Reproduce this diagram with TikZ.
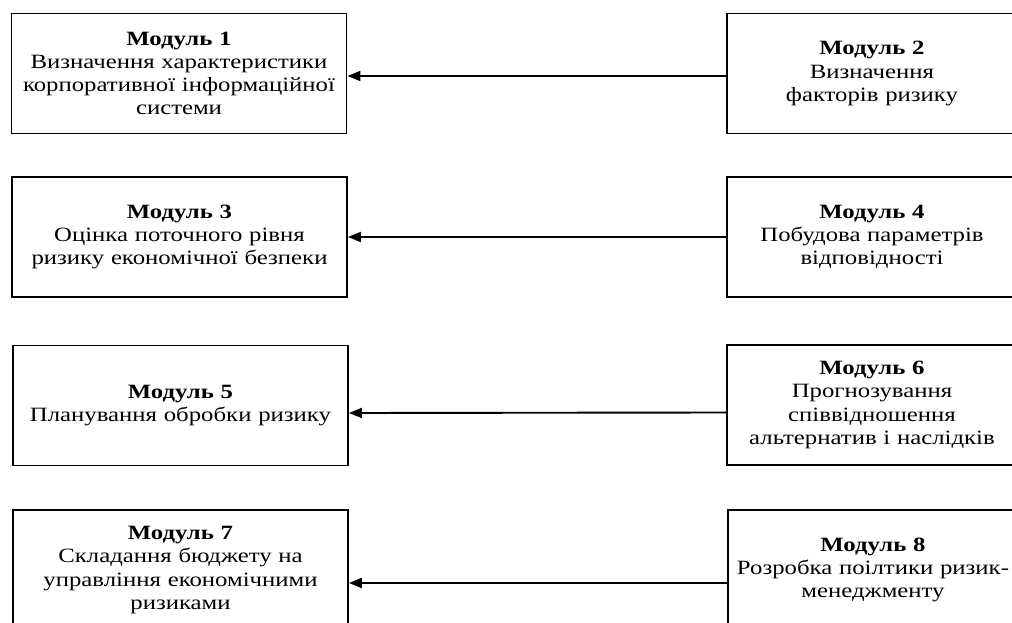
\documentclass[tikz,border=0pt]{standalone}
\usepackage{fontspec}
\setmainfont[FakeStretch=1.22]{Liberation Serif}
\usetikzlibrary{arrows.meta}
\begin{document}
\begin{tikzpicture}[x=1pt,y=-1pt,
  modbox/.style={draw=black, line width=1.9pt, fill=white, align=center,
    inner sep=2pt, font=\fontsize{20.3}{23.2}\selectfont},
  leftbox/.style={modbox, minimum width=335pt, text width=329pt, minimum height=120pt},
  rightbox/.style={modbox, minimum width=290pt, text width=284pt, minimum height=120pt},
  conn/.style={line width=1.9pt, -{Triangle[length=13pt,width=10pt]}}]
\path[use as bounding box, clip] (0,0) rectangle (1012,623);
\fill[white] (0,0) rectangle (1012,623);
\node[leftbox] (m1) at (179,73.5) {\textbf{Модуль 1}\\Визначення характеристики\\корпоративної інформаційної\\системи};
\node[rightbox] (m2) at (872,73.5) {\textbf{Модуль 2}\\Визначення\\факторів ризику};
\node[leftbox] (m3) at (179.5,237) {\textbf{Модуль 3}\\Оцінка поточного рівня\\ризику економічної безпеки};
\node[rightbox] (m4) at (872,237) {\textbf{Модуль 4}\\Побудова параметрів\\відповідності};
\node[leftbox] (m5) at (180.5,405.5) {\textbf{Модуль 5}\\Планування обробки ризику};
\node[rightbox] (m6) at (872,405) {\textbf{Модуль 6}\\Прогнозування\\співвідношення\\альтернатив і наслідків};
\node[leftbox] (m7) at (180.5,570) {\textbf{Модуль 7}\\Складання бюджету на\\управління економічними\\ризиками};
\node[rightbox] (m8) at (873,570) {\textbf{Модуль 8}\\Розробка поілтики ризик-\\менеджменту};
\draw[conn] ([yshift=-2.5pt]m2.west) -- ([yshift=-2.5pt]m1.east);
\draw[conn] (m4.west) -- (m3.east);
\draw[conn] ([yshift=-7.5pt]m6.west) -- ([yshift=-7.5pt]m5.east);
\draw[conn] ([yshift=-13pt]m8.west) -- ([yshift=-13pt]m7.east);
\end{tikzpicture}
\end{document}
